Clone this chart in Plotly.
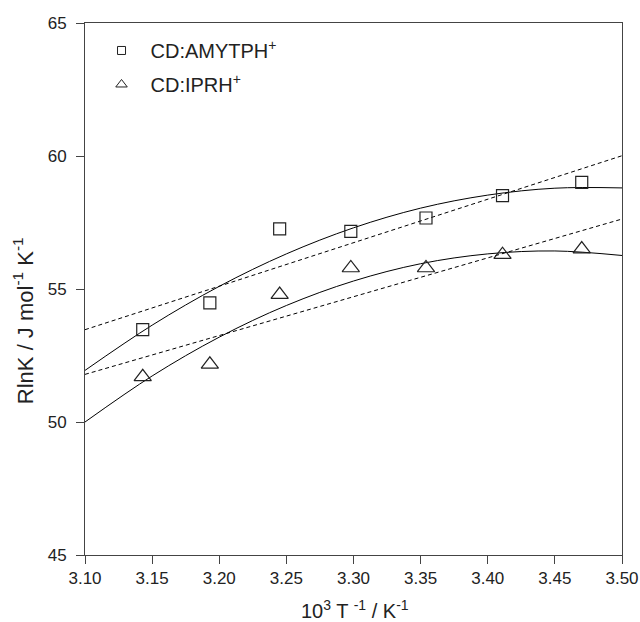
import plotly.graph_objects as go

# Data
inv_T = [3.143, 3.193, 3.245, 3.298, 3.354, 3.411, 3.470]
amytph = [53.47, 54.48, 57.26, 57.17, 57.67, 58.51, 59.01]
iprh = [51.70, 52.17, 54.79, 55.79, 55.79, 56.29, 56.50]

# Fitted curves
curve_x = [3.10, 3.15, 3.20, 3.25, 3.30, 3.35, 3.40, 3.45, 3.50]
amytph_quad = [51.94, 53.64, 55.10, 56.32, 57.30, 58.04, 58.53, 58.79, 58.80]
iprh_quad = [50.00, 51.73, 53.19, 54.38, 55.30, 55.95, 56.32, 56.43, 56.26]
lin_x = [3.10, 3.50]
amytph_lin = [53.47, 60.01]
iprh_lin = [51.79, 57.63]

x_ticks = [3.10, 3.15, 3.20, 3.25, 3.30, 3.35, 3.40, 3.45, 3.50]
y_ticks = [45, 50, 55, 60, 65]

FONT = "Liberation Sans, Arial, sans-serif"
fig = go.Figure()

line_style = dict(color="black", width=1)
dash_style = dict(color="black", width=1, dash="4px,3px")
fig.add_trace(go.Scatter(x=lin_x, y=amytph_lin, mode="lines", line=dash_style, showlegend=False))
fig.add_trace(go.Scatter(x=lin_x, y=iprh_lin, mode="lines", line=dash_style, showlegend=False))
fig.add_trace(go.Scatter(x=curve_x, y=amytph_quad, mode="lines", line_shape="spline",
                         line=line_style, showlegend=False))
fig.add_trace(go.Scatter(x=curve_x, y=iprh_quad, mode="lines", line_shape="spline",
                         line=line_style, showlegend=False))

fig.add_trace(go.Scatter(x=inv_T, y=amytph, mode="markers", showlegend=False,
                         marker=dict(symbol="square-open", size=12, color="#222",
                                     line=dict(width=1.2, color="#222"))))
fig.add_trace(go.Scatter(x=inv_T, y=iprh, mode="markers", showlegend=False,
                         marker=dict(symbol="triangle-up-open", size=15, color="#222",
                                     line=dict(width=1.2, color="#222"))))

# legend entries
fig.add_trace(go.Scatter(x=[None], y=[None], mode="markers", name="CD:AMYTPH<sup>+</sup>",
                         legendgroup="a",
                         marker=dict(symbol="square-open", size=8, color="#222",
                                     line=dict(width=1, color="#222"))))
fig.add_trace(go.Scatter(x=[None], y=[None], mode="markers", name="CD:IPRH<sup>+</sup>",
                         legendgroup="b",
                         marker=dict(symbol="triangle-up-open", size=10, color="#222",
                                     line=dict(width=1, color="#222"))))

axis_common = dict(showline=True, linecolor="#444", linewidth=1, mirror=True,
                   ticks="outside", ticklen=8, tickwidth=1, tickcolor="#444",
                   showgrid=False, zeroline=False, automargin=False,
                   tickfont=dict(family=FONT, size=17, color="#222"))

fig.update_xaxes(range=[3.10, 3.50], tickvals=x_ticks, tickformat=".2f", **axis_common)
fig.update_yaxes(range=[45, 65], tickvals=y_ticks, ticklabelstandoff=6, **axis_common)

fig.update_layout(
    width=640, height=622,
    margin=dict(l=85, r=18, t=23, b=67),
    paper_bgcolor="white", plot_bgcolor="white",
    font=dict(family=FONT, color="#222"),
    legend=dict(x=0.014, y=0.985, xanchor="left", yanchor="top",
                font=dict(family=FONT, size=20, color="#222"),
                bgcolor="rgba(0,0,0,0)", traceorder="grouped", tracegroupgap=5,
                itemwidth=48),
    annotations=[
        dict(text="RlnK / J mol<sup>-1</sup> K<sup>-1</sup>", textangle=-90,
             xref="paper", yref="paper", x=-0.115, y=0.44, xanchor="center", yanchor="middle",
             showarrow=False, font=dict(family=FONT, size=22, color="#222")),
        dict(text="10<sup>3</sup> T <sup>-1</sup> / K<sup>-1</sup>",
             xref="paper", yref="paper", x=0.503, y=-0.103, xanchor="center", yanchor="middle",
             showarrow=False, font=dict(family=FONT, size=20, color="#222")),
    ],
)

# remove the default 8px page margin so the 640x622 figure fills the window exactly
fig.write_html("out.html", config={"displayModeBar": False},
               post_script="document.body.style.margin='0px';document.body.style.overflow='hidden';")
